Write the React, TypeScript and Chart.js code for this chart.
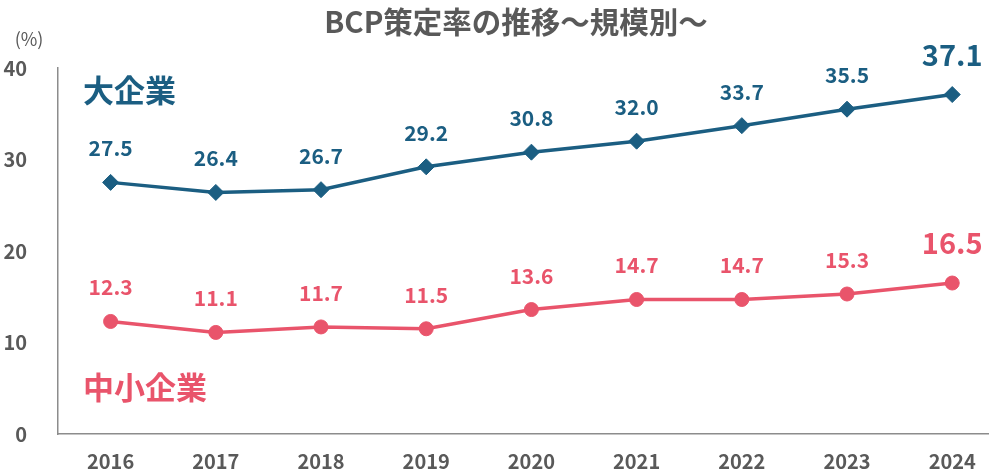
import React, { useEffect, useRef } from "react";
import { Chart, registerables } from "chart.js";

Chart.register(...registerables);

const years = ["2016", "2017", "2018", "2019", "2020", "2021", "2022", "2023", "2024"];
const largeValues = [27.5, 26.4, 26.7, 29.2, 30.8, 32.0, 33.7, 35.5, 37.1];
const smeValues = [12.3, 11.1, 11.7, 11.5, 13.6, 14.7, 14.7, 15.3, 16.5];
const yTicks = [0, 10, 20, 30, 40];
const titleText = "BCP策定率の推移～規模別～";
const unitText = "(%)";
const largeLabel = "大企業";
const smeLabel = "中小企業";

const BLUE = "#1b5e82";
const PINK = "#e9546b";
const GRAY = "#595959";
const FONT = "'Noto Sans CJK JP', 'Noto Sans', sans-serif";

export default function App() {
  const ref = useRef<HTMLCanvasElement | null>(null);

  useEffect(() => {
    document.body.style.margin = "0";
    const canvas = ref.current;
    if (!canvas) return;

    const overlay = {
      id: "overlay",
      afterDatasetsDraw(chart: any) {
        const ctx = chart.ctx as CanvasRenderingContext2D;
        ctx.save();
        // title
        ctx.fillStyle = GRAY;
        ctx.font = `bold 29.5px ${FONT}`;
        ctx.textAlign = "center";
        ctx.textBaseline = "middle";
        ctx.fillText(titleText, 516, 22);
        // unit
        ctx.font = `18px ${FONT}`;
        ctx.textAlign = "center";
        ctx.fillText(unitText, 29, 39);
        // series labels
        ctx.font = `bold 31px ${FONT}`;
        ctx.textAlign = "left";
        ctx.fillStyle = BLUE;
        ctx.fillText(largeLabel, 83, 90);
        ctx.fillStyle = PINK;
        ctx.fillText(smeLabel, 83, 387);
        // data labels
        chart.data.datasets.forEach((ds: any, di: number) => {
          const meta = chart.getDatasetMeta(di);
          const values = di === 0 ? largeValues : smeValues;
          ctx.fillStyle = di === 0 ? BLUE : PINK;
          meta.data.forEach((pt: any, i: number) => {
            const last = i === values.length - 1;
            ctx.font = last ? `bold 29px ${FONT}` : `bold 21px ${FONT}`;
            ctx.textAlign = "center";
            ctx.fillText(values[i].toFixed(1), pt.x, pt.y - (last ? 40 : 34));
          });
        });
        ctx.restore();
      },
    };

    const chart = new Chart(canvas, {
      type: "line",
      data: {
        datasets: [
          {
            label: largeLabel,
            data: largeValues.map((v, i) => ({ x: i, y: v })),
            borderColor: BLUE,
            backgroundColor: BLUE,
            pointBackgroundColor: BLUE,
            pointBorderColor: BLUE,
            pointStyle: "rectRot",
            pointRadius: 8,
            pointBorderWidth: 1,
            borderWidth: 3.5,
          },
          {
            label: smeLabel,
            data: smeValues.map((v, i) => ({ x: i, y: v })),
            borderColor: PINK,
            backgroundColor: PINK,
            pointBackgroundColor: PINK,
            pointBorderColor: PINK,
            pointStyle: "circle",
            pointRadius: 7,
            pointBorderWidth: 1,
            borderWidth: 3.5,
          },
        ],
      },
      options: {
        animation: false,
        responsive: false,
        maintainAspectRatio: false,
        layout: { padding: { top: 68, left: 0, right: 0, bottom: 0 } },
        plugins: {
          legend: { display: false },
          title: { display: false },
          tooltip: { enabled: false },
        },
        scales: {
          x: {
            type: "linear",
            min: -0.5,
            max: 8.34,
            grid: { display: false },
            border: { display: true, color: "#8c8c8c", width: 1.5 },
            afterBuildTicks: (s: any) => {
              s.ticks = years.map((_, i) => ({ value: i }));
            },
            afterFit: (s: any) => {
              s.height = 39;
            },
            ticks: {
              padding: 7,
              color: GRAY,
              font: { family: FONT, size: 20, weight: "bold" },
              maxRotation: 0,
              autoSkip: false,
              callback: (v: any) => years[Math.round(Number(v))] ?? "",
            },
          },
          y: {
            type: "linear",
            min: 0,
            max: 40,
            grid: { display: false },
            border: { display: true, color: "#8c8c8c", width: 1.5 },
            afterBuildTicks: (s: any) => {
              s.ticks = yTicks.map((v) => ({ value: v }));
            },
            afterFit: (s: any) => {
              s.width = 58;
            },
            ticks: {
              padding: 23,
              color: GRAY,
              font: { family: FONT, size: 20, weight: "bold" },
            },
          },
        },
      },
      plugins: [overlay],
    } as any);

    return () => chart.destroy();
  }, []);

  return (
    <div style={{ width: 997, height: 473 }}>
      <canvas ref={ref} width={997} height={473} style={{ display: "block" }} />
    </div>
  );
}
